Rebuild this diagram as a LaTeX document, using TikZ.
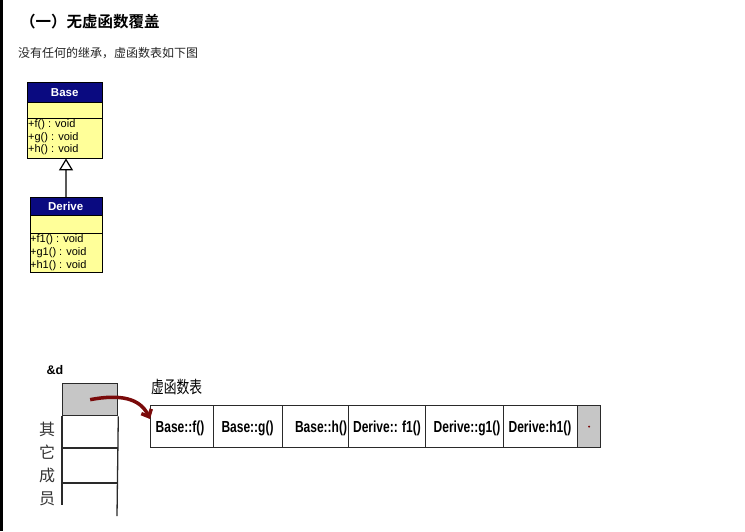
\documentclass[tikz,border=0pt]{standalone}
\usepackage{fontspec}
\usepackage{graphicx}
\setmainfont{Liberation Sans}
\newfontfamily\cjk{Noto Sans CJK SC}
\newfontfamily\cjkb{Noto Sans CJK SC Bold}
\usetikzlibrary{arrows.meta}
\definecolor{umlnavy}{HTML}{0A0A80}
\definecolor{umlyel}{HTML}{FFFF99}
\definecolor{arrowred}{HTML}{7A0A0A}
\definecolor{cellgrey}{HTML}{C6C6C6}
\definecolor{linegrey}{HTML}{2A2A2A}
\tikzset{
  umlhdr/.style={draw=black, fill=umlnavy, text=white, font=\bfseries\fontsize{11.5}{12}\selectfont, inner sep=0pt, anchor=north west},
  umlbox/.style={draw=black, fill=umlyel, inner sep=0pt, anchor=north west},
  umltxt/.style={font=\fontsize{11}{12}\selectfont, inner sep=0pt, anchor=west, text=black},
  vcell/.style={draw=linegrey, line width=1.2pt, fill=white, inner sep=0pt, anchor=north west},
  celltxt/.style={font=\bfseries\fontsize{16}{16}\selectfont, inner sep=0pt, text=black},
  colline/.style={draw=linegrey, line width=1.3pt},
}
\newcommand{\narrow}[1]{\scalebox{0.75}[1]{#1}}
\begin{document}
\begin{tikzpicture}[x=1pt,y=-1pt]
\useasboundingbox (0,0) rectangle (745,531);
\fill[white] (0,0) rectangle (745,531);
\fill[black] (0,0) rectangle (2.7,531);
% title
\node[font=\cjkb\fontsize{15.5}{16}\selectfont, anchor=west, inner sep=0pt] (title) at (20,22) {（一）无虚函数覆盖};
\node[font=\cjk\fontsize{12}{13}\selectfont, anchor=west, inner sep=0pt, text=black!85] (sub) at (18,53) {没有任何的继承，虚函数表如下图};
% Base class
\node[umlhdr, minimum width=75pt, minimum height=20pt] (bh) at (27,82) {Base};
\node[umlbox, minimum width=75pt, minimum height=16pt] (be) at (27,102) {};
\node[umlbox, minimum width=75pt, minimum height=40pt] (bm) at (27,118) {};
\node[umltxt] (bf) at (28,125) {+f() : void};
\node[umltxt] (bg) at (28,137.5) {+g() : void};
\node[umltxt] (bhh) at (28,150) {+h() : void};
% Derive class
\node[umlhdr, minimum width=72pt, minimum height=18pt] (dh) at (29.5,197) {Derive};
\node[umlbox, minimum width=72pt, minimum height=18pt] (de) at (29.5,215) {};
\node[umlbox, minimum width=72pt, minimum height=39pt] (dm) at (29.5,233) {};
\node[umltxt] (df) at (30,240) {+f1() : void};
\node[umltxt] (dg) at (30,253) {+g1() : void};
\node[umltxt] (dhh) at (30,266) {+h1() : void};
% inheritance
\draw[draw=black!65, line width=1.2pt, -{Triangle[open, length=12pt, width=14pt, fill=white, color=black]}] (dh.north -| 66,0) -- (bm.south -| 66,0);
% object layout
\node[font=\bfseries\fontsize{12.5}{13}\selectfont, inner sep=0pt] (amp) at (55,370) {\&d};
\node[draw=linegrey, line width=1.3pt, fill=cellgrey, minimum width=55pt, minimum height=32pt, inner sep=0pt, anchor=north west] (gc) at (62,383) {};
\coordinate (l1) at (62,448);
\coordinate (l2) at (62,483);
\draw[colline] (gc.south west) -- (62,505);
\draw[colline] (gc.south east) -- (117,516);
\draw[colline] (l1) -- (117,448);
\draw[colline] (l2) -- (117,483);
\node[font=\cjk\fontsize{16}{23}\selectfont, align=center, inner sep=0pt, text=black!80] (other) at (47,464) {其\\它\\成\\员};
% vtable
\node[font=\cjk\fontsize{13.5}{14}\selectfont, anchor=west, inner sep=0pt] (vlab) at (151,387) {\narrow{\fontsize{17}{17}\selectfont 虚函数表}};
\node[vcell, minimum width=63pt, minimum height=42pt] (c1) at (150,405) {};
\node[vcell, minimum width=69pt, minimum height=42pt] (c2) at (213,405) {};
\node[vcell, minimum width=66pt, minimum height=42pt] (c3) at (282,405) {};
\node[vcell, minimum width=77pt, minimum height=42pt] (c4) at (348,405) {};
\node[vcell, minimum width=78pt, minimum height=42pt] (c5) at (425,405) {};
\node[vcell, minimum width=74pt, minimum height=42pt] (c6) at (503,405) {};
\node[vcell, fill=cellgrey, minimum width=23pt, minimum height=42pt] (c7) at (577,405) {};
\fill[arrowred] (c7.center) circle (1.1pt);
\node[celltxt] (t1) at (180,428) {\narrow{Base::f()}};
\node[celltxt] (t2) at (247.5,428) {\narrow{Base::g()}};
\node[celltxt] (t3) at (321,428) {\narrow{Base::h()}};
\node[celltxt] (t4) at (387,428) {\narrow{Derive:: f1()}};
\node[celltxt] (t5) at (467,428) {\narrow{Derive::g1()}};
\node[celltxt] (t6) at (540,428) {\narrow{Derive:h1()}};
% pointer arrow
\coordinate (tip) at (150,419);
\draw[arrowred, line width=3.5pt, -{Straight Barb[length=6pt, width=11pt]}] (gc.center) .. controls (120,394) and (140,398) .. (tip);
\end{tikzpicture}
\end{document}
